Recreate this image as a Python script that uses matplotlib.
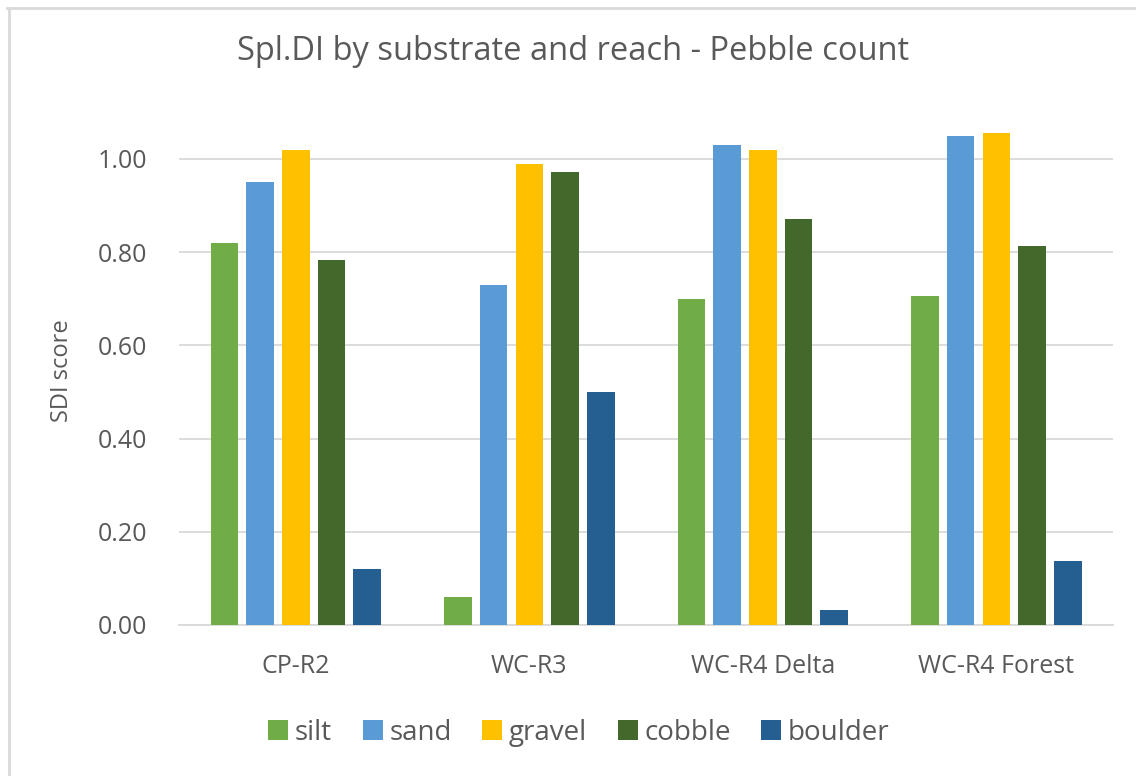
import numpy as np
import matplotlib
matplotlib.use("Agg")
import matplotlib.pyplot as plt
from matplotlib.lines import Line2D

# ── Data ──────────────────────────────────────────────────────────────────────
reaches  = ["CP-R2", "WC-R3", "WC-R4 Delta", "WC-R4 Forest"]
silt     = [0.82, 0.06, 0.70, 0.705]
sand     = [0.95, 0.73, 1.03, 1.05]
gravel   = [1.02, 0.99, 1.02, 1.055]
cobble   = [0.783, 0.972, 0.871, 0.813]
boulder  = [0.12, 0.50, 0.032, 0.137]

series = [("silt", silt, "#70AD47"),
          ("sand", sand, "#5B9BD5"),
          ("gravel", gravel, "#FFC000"),
          ("cobble", cobble, "#43682B"),
          ("boulder", boulder, "#255E91")]

yticks = [0.0, 0.2, 0.4, 0.6, 0.8, 1.0]

plt.rcParams["font.family"] = ["Open Sans", "DejaVu Sans"]
txt = "#595959"

fig = plt.figure(figsize=(11.36, 7.76), dpi=100, facecolor="white")
ax = fig.add_axes([0.1576, 0.1946, 0.8222, 0.6727])

# ── Bars ──────────────────────────────────────────────────────────────────────
x = np.arange(len(reaches))
pitch = 0.153
width = 0.118
for i, (name, vals, col) in enumerate(series):
    ax.bar(x + (i - 2) * pitch, vals, width=width, color=col, label=name, zorder=3)

ax.set_xlim(-0.5, 3.5)
ax.set_ylim(0, 1.12)
ax.set_yticks(yticks)
ax.set_yticklabels([f"{v:.2f}" for v in yticks])
ax.set_xticks(x)
ax.set_xticklabels(reaches)
ax.grid(axis="y", color="#D9D9D9", linewidth=1.3, zorder=0)
ax.tick_params(axis="both", length=0, colors=txt, labelsize=18)
ax.tick_params(axis="y", pad=23)
ax.tick_params(axis="x", pad=21)
for s in ["top", "right", "left"]:
    ax.spines[s].set_visible(False)
ax.spines["bottom"].set_color("#D9D9D9")
ax.spines["bottom"].set_linewidth(1.3)

ax.set_ylabel("SDI score", color=txt, fontsize=17)
ax.yaxis.set_label_coords(-0.112, 0.488)

fig.text(0.5048, 0.934, "Spl.DI by substrate and reach - Pebble count",
         ha="center", va="center", color=txt, fontsize=23.5)

leg = fig.legend(loc="center", bbox_to_anchor=(0.5097, 0.0554), ncol=5, frameon=False,
                 fontsize=20, handlelength=0.72, handleheight=0.72,
                 handletextpad=0.24, columnspacing=1.1)
for t in leg.get_texts():
    t.set_color(txt)

# light chart border (only top and left edges show)
fig.add_artist(Line2D([0.006, 1.0], [0.9895, 0.9895], transform=fig.transFigure,
                      color="#D9D9D9", linewidth=2))
fig.add_artist(Line2D([0.0075, 0.0075], [0.0, 0.99], transform=fig.transFigure,
                      color="#D9D9D9", linewidth=2))

plt.savefig("out.png", dpi=100, facecolor="white")
